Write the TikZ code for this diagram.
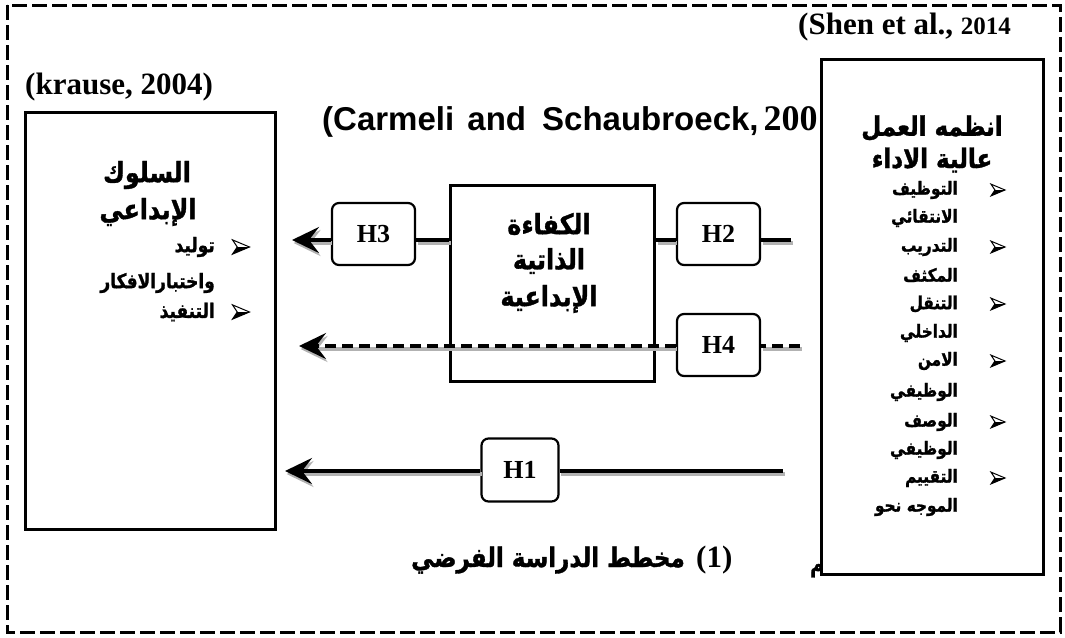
\documentclass[tikz,border=0pt]{standalone}
\usepackage{fontspec}
\setmainfont{Liberation Serif}
\newfontfamily\arialfont{Liberation Sans}
\newfontfamily\arabicfont[Script=Arabic, FakeStretch=0.85, BoldFeatures={FakeBold=1.2}]{DejaVu Sans}
\TeXXeTstate=1
\usetikzlibrary{arrows.meta,calc}
\newcommand\rl[1]{\beginR#1\endR}

\tikzset{
  frame/.style={draw, line width=3pt, inner sep=0pt},
  hyp/.style={draw, line width=2.2pt, rounded corners=7pt, fill=white,
    minimum width=83pt, minimum height=62pt, inner sep=0pt,
    font=\fontsize{26}{30}\selectfont\bfseries},
  link/.style={line width=3.8pt,
    preaction={draw=gray!60, line width=3.8pt,
      transform canvas={shift={(1.5pt,-3pt)}}}},
  tip/.style={-{Stealth[length=27pt,width=26pt,inset=10pt]}},
  dashlink/.style={link, dash pattern=on 11pt off 6pt},
  border/.style={draw, line width=3pt, dash pattern=on 15pt off 5pt},
  head/.style={font=\arabicfont\bfseries\fontsize{28}{30}\selectfont, inner sep=0pt},
  item/.style={font=\arabicfont\bfseries\fontsize{20}{22}\selectfont, inner sep=0pt, anchor=east},
  smallitem/.style={font=\arabicfont\bfseries\fontsize{18}{20}\selectfont, inner sep=0pt, anchor=east},
  ref/.style={font=\bfseries\fontsize{31}{34}\selectfont, inner sep=0pt, anchor=base west},
  % three-d arrowhead list bullet, light upper face and dark lower face
  arrowbullet/.pic={
    \fill (0.5,0) -- (-0.5,0.42) -- (-0.22,0) -- cycle;
    \draw[line width=1pt, line join=miter] (0.5,0) -- (-0.5,-0.42) -- (-0.22,0) -- (-0.5,0.42) -- cycle;
  },
}

\begin{document}
\begin{tikzpicture}[x=1pt, y=-1pt]
\useasboundingbox (0,0) rectangle (1065,637);

% outer dashed frame
\draw[border] (7,5) rectangle (1060,632);

% references
\node[ref] (shen) at (798,34) {(Shen et al., {\fontsize{25}{28}\selectfont 2014}};
\node[ref] (krause) at (25,94) {(krause, 2004)};
\node[ref, font=\arialfont\bfseries\fontsize{33}{36}\selectfont] (carmeli) at (322,130)
  {(Carmeli\kern4pt{} and\kern7pt{} Schaubroeck,\kern5pt{\rmfamily\bfseries\fontsize{36}{38}\selectfont 200}};

% dependent variable: creative behaviour
\node[frame, minimum width=250pt, minimum height=417pt, anchor=north west] (behav) at (24,111) {};
\node[head] (b1) at (147,175) {\rl{السلوك}};
\node[head] (b2) at (148,212) {\rl{الإبداعي}};
\pic[scale=17] at (241,247) {arrowbullet};
\node[item] (b3) at (215,247) {\rl{توليد}};
\node[item] (b4) at (215,283) {\rl{واختبارالافكار}};
\pic[scale=17] at (241,312) {arrowbullet};
\node[item] (b5) at (215,312) {\rl{التنفيذ}};

% mediator: creative self-efficacy
\node[frame, minimum width=204pt, minimum height=196pt, anchor=north west] (mid) at (449,184) {};
\node[head] (m1) at (549,224) {\rl{الكفاءة}};
\node[head] (m2) at (549,261) {\rl{الذاتية}};
\node[head] (m3) at (549,299) {\rl{الإبداعية}};

% caption
\node[font=\arabicfont\bfseries\fontsize{27}{30}\selectfont, inner sep=0pt, anchor=base east] (cap) at (685,567) {\rl{مخطط الدراسة الفرضي}};
\node[font=\bfseries\fontsize{31}{34}\selectfont, inner sep=0pt, anchor=base west] (capn) at (696,567) {(1)};
\node[font=\arabicfont\bfseries\fontsize{22}{24}\selectfont, inner sep=0pt, anchor=base west] (frag) at (810,572) {\rl{م}};

% independent variable: high performance work systems
\node[frame, fill=white, minimum width=222pt, minimum height=515pt, anchor=north west] (hpws) at (820,58) {};
\node[head, font=\arabicfont\bfseries\fontsize{27}{30}\selectfont] (r1) at (932,128) {\rl{انظمه العمل}};
\node[head, font=\arabicfont\bfseries\fontsize{27}{30}\selectfont] (r2) at (932,160) {\rl{عالية الاداء}};
\foreach \y in {190,247,304,361,422,478} \pic[scale=14] at (998,\y) {arrowbullet};
\node[smallitem] (i1) at (958,190) {\rl{التوظيف}};
\node[smallitem] (i2) at (958,218) {\rl{الانتقائي}};
\node[smallitem] (i3) at (958,247) {\rl{التدريب}};
\node[smallitem] (i4) at (958,275) {\rl{المكثف}};
\node[smallitem] (i5) at (958,304) {\rl{التنقل}};
\node[smallitem] (i6) at (958,333) {\rl{الداخلي}};
\node[smallitem] (i7) at (958,361) {\rl{الامن}};
\node[smallitem] (i8) at (958,392) {\rl{الوظيفي}};
\node[smallitem] (i9) at (958,422) {\rl{الوصف}};
\node[smallitem] (i10) at (958,450) {\rl{الوظيفي}};
\node[smallitem] (i11) at (958,478) {\rl{التقييم}};
\node[smallitem] (i12) at (958,507) {\rl{الموجه نحو}};

% hypothesis labels
\node[hyp] (h3) at (373.5,234) {H3};
\node[hyp] (h2) at (718.5,234) {H2};
\node[hyp] (h4) at (718.5,345) {H4};
\node[hyp, minimum width=77pt, minimum height=63pt] (h1) at (520,470) {H1};

% free ends of the connectors
\coordinate (s2) at (791,240);
\coordinate (t3) at (292,240);
\coordinate (s4) at (800,346);
\coordinate (t4) at (299,346);
\coordinate (s1) at (783,471);
\coordinate (t1) at (285,471);

% H2 and H3 path through the mediator
\draw[link] (s2) -- (h2.east |- s2);
\draw[link] (h2.west |- s2) -- (mid.east |- s2);
\draw[link] (mid.west |- s2) -- (h3.east |- s2);
\draw[link, tip] (h3.west |- s2) -- (t3);

% H4 indirect effect
\draw[dashlink] (s4) -- (h4.east |- s4);
\draw[dashlink, tip] (h4.west |- s4) -- (t4);

% H1 direct effect
\draw[link] (s1) -- (h1.east |- s1);
\draw[link, tip] (h1.west |- s1) -- (t1);
\end{tikzpicture}
\end{document}
